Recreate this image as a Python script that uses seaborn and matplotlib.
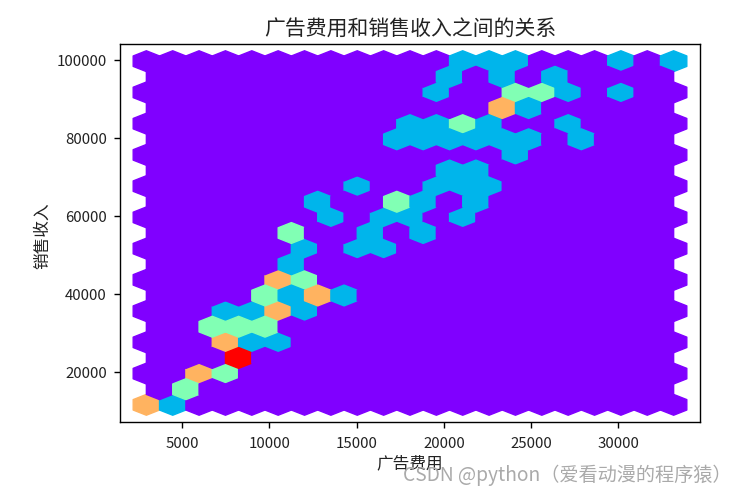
import seaborn as sns
import matplotlib.pyplot as plt
import pandas as pd

ad_spend = [
    2940, 3050, 3120, 4430,
    5200, 5260,
    5950, 6010, 5900, 7450, 7520,
    8200, 8260, 8150, 8300,
    7440, 7500, 7530, 8990, 10480,
    6700, 6760, 8200, 8270, 9720, 9780,
    7470, 8980, 10450, 10520, 10560, 12000,
    9720, 9770, 11250, 12740, 12790, 12820, 14290,
    10480, 10520, 10550, 12000, 12050,
    11240,
    12020, 15030, 16550,
    11230, 11280, 15800, 18800,
    13520, 16540, 18050, 21080,
    12770, 17290, 17330, 18820, 21850,
    15030, 19570, 21090, 22600,
    20330, 21840,
    24100,
    17300, 18810, 20320, 21850, 23360, 24860, 27880,
    18060, 19580, 21070, 21100, 22590, 27130,
    23330, 23360, 23390, 24870,
    19570, 24090, 24130, 25600, 25640, 27120, 30150,
    20330, 23350, 26370,
    21080, 22600, 24110, 30160, 33180,
]
sales_revenue = [
    11700, 11950, 12100, 11800,
    15600, 15900,
    19500, 19800, 20000, 19600, 19900,
    23500, 23800, 23900, 23600,
    27600, 27900, 27500, 27700, 27800,
    31500, 31900, 31600, 31800, 31500, 31900,
    35700, 35800, 35500, 35800, 36000, 35600,
    39500, 39900, 39700, 39500, 39800, 40000, 39700,
    43500, 43800, 44000, 43600, 43900,
    47700,
    51700, 51800, 51600,
    55600, 55900, 55700, 55800,
    59700, 59800, 59600, 59700,
    63700, 63500, 63900, 63700, 63800,
    67700, 67800, 67600, 67700,
    71700, 71800,
    75700,
    79700, 79800, 79600, 79700, 79800, 79700, 79600,
    83700, 83800, 83500, 83900, 83700, 83600,
    87500, 87800, 88000, 87700,
    91700, 91500, 91900, 91600, 91800, 91700, 91800,
    95700, 95800, 95600,
    99600, 99700, 99650, 99700, 99750,
]

df = pd.DataFrame({"广告费用": ad_spend, "销售收入": sales_revenue})

sns.set_style("ticks", {"axes.edgecolor": "black", "xtick.color": "black", "ytick.color": "black"})
plt.rcParams['font.family'] = ['Noto Sans CJK SC', 'DejaVu Sans']

fig = plt.figure(figsize = (7.36, 4.95), dpi = 100)
ax = fig.add_axes([120 / 736, 1 - 422 / 495, 580 / 736, 378 / 495])

ax.hexbin(df["广告费用"], df["销售收入"], gridsize = 20, cmap = sns.color_palette("rainbow", as_cmap = True))

ax.set_title("广告费用和销售收入之间的关系", fontsize = 15, color = "#222222", pad = 6)
ax.set_xlabel("广告费用", fontsize = 12, color = "#222222", labelpad = 3)
ax.set_ylabel("销售收入", fontsize = 12, color = "#222222", labelpad = 4, y = 0.492)
ax.tick_params(labelsize = 10.8, labelcolor = "#222222", length = 4, width = 1)
ax.tick_params(axis = "x", pad = 6.5)
ax.tick_params(axis = "y", pad = 5.5)
for spine in ax.spines.values():
    spine.set_linewidth(1)

fig.text(403 / 736, 1 - 475 / 495, "CSDN @python（爱看动漫的程序猿）", fontsize = 13.8, color = "#aaaaaa", va = "center")

plt.savefig("out.png", dpi = 100)
